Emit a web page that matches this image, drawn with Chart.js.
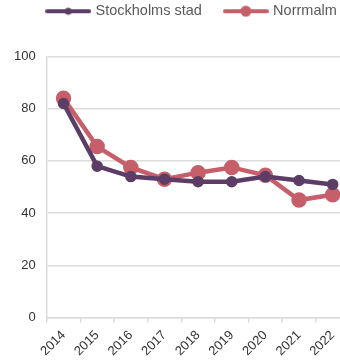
<!DOCTYPE html>
<html lang="sv">
<head>
<meta charset="UTF-8">
<title>Stockholms stad och Norrmalm</title>
<script src="https://cdn.jsdelivr.net/npm/chart.js"></script>
<style>
  html, body { margin: 0; padding: 0; background: #fff; overflow: hidden; }
  .chart-container { position: relative; width: 360px; height: 364px; }
</style>
</head>
<body>
<div class="chart-container">
  <canvas id="chartCanvas"></canvas>
</div>
<script>
const years = ['2014', '2015', '2016', '2017', '2018', '2019', '2020', '2021', '2022'];
const stockholm = [82, 58, 54, 53, 52, 52, 54, 52.5, 51];
const norrmalm = [84, 65.5, 57.5, 53, 55.5, 57.5, 54.5, 45, 47];
const yTicks = [0, 20, 40, 60, 80, 100];

const purple = '#5b3d65';
const pink = '#c65f6a';
const font = 'Liberation Sans, Arial, sans-serif';

// legend marker: thick line with a dot in the middle
function legendMarker(color, radius) {
    const c = document.createElement('canvas');
    c.width = 46;
    c.height = 12;
    const g = c.getContext('2d');
    g.strokeStyle = color;
    g.lineWidth = 4;
    g.lineCap = 'round';
    g.beginPath();
    g.moveTo(2, 6);
    g.lineTo(44, 6);
    g.stroke();
    g.fillStyle = color;
    g.beginPath();
    g.arc(23, 6, radius, 0, Math.PI * 2);
    g.fill();
    return c;
}

const markers = [legendMarker(purple, 3.5), legendMarker(pink, 5.5)];

// taller legend block; items drawn higher and a bit to the right
const legendTweak = {
    id: 'legendTweak',
    beforeInit(chart) {
        const fit = chart.legend.fit;
        chart.legend.fit = function () {
            fit.bind(chart.legend)();
            this.height += 8;
        };
    },
    afterLayout(chart) {
        const lg = chart.legend;
        lg.left += 11;
        lg.right += 11;
        lg.top -= 20;
        lg.bottom -= 20;
    }
};

new Chart(document.getElementById('chartCanvas'), {
    type: 'line',
    data: {
        labels: years,
        datasets: [
            {
                label: 'Stockholms stad',
                data: stockholm,
                borderColor: purple,
                backgroundColor: purple,
                borderWidth: 4.5,
                pointRadius: 3.5,
                pointHoverRadius: 4,
                tension: 0
            },
            {
                label: 'Norrmalm',
                data: norrmalm,
                borderColor: pink,
                backgroundColor: pink,
                borderWidth: 4.5,
                pointRadius: 5.5,
                pointHoverRadius: 6,
                tension: 0
            }
        ]
    },
    options: {
        responsive: true,
        maintainAspectRatio: false,
        animation: false,
        layout: { padding: { left: 3, right: 0, top: 0, bottom: 0 } },
        plugins: {
            legend: {
                position: 'top',
                labels: {
                    usePointStyle: true,
                    pointStyleWidth: 40,
                    generateLabels(chart) {
                        return chart.data.datasets.map((ds, i) => ({
                            text: ds.label,
                            fontColor: '#5a5a5a',
                            pointStyle: markers[i],
                            datasetIndex: i,
                            hidden: !chart.isDatasetVisible(i),
                            lineWidth: 0
                        }));
                    },
                    color: '#5a5a5a',
                    padding: 24,
                    font: { family: font, size: 14.5 }
                }
            },
            tooltip: { enabled: false }
        },
        scales: {
            x: {
                offset: true,
                grid: {
                    offset: true,
                    drawOnChartArea: false,
                    color: '#dcdcdc',
                    lineWidth: 1.5,
                    tickLength: 5
                },
                border: { color: '#dcdcdc', width: 1.5 },
                ticks: {
                    color: '#333',
                    maxRotation: 45,
                    minRotation: 45,
                    padding: 5,
                    font: { family: font, size: 13 }
                }
            },
            y: {
                min: 0,
                max: 100,
                afterBuildTicks(axis) {
                    axis.ticks = yTicks.map(v => ({ value: v }));
                },
                grid: {
                    color: '#dcdcdc',
                    lineWidth: 1.5,
                    drawTicks: false
                },
                border: { color: '#dcdcdc', width: 1.5 },
                ticks: {
                    color: '#333',
                    padding: 11,
                    font: { family: font, size: 13 }
                }
            }
        }
    },
    plugins: [legendTweak]
});
</script>
</body>
</html>
